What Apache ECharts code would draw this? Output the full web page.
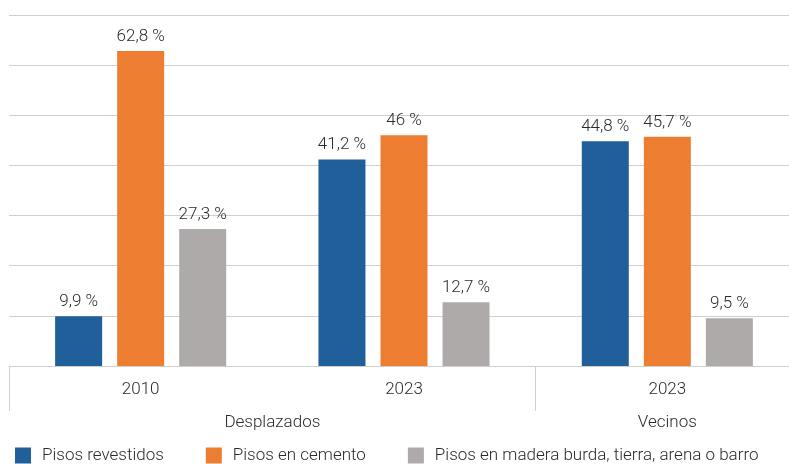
<!DOCTYPE html>
<html>
<head>
    <meta charset="utf-8">
    <title>ECharts</title>
    <script src="https://cdn.jsdelivr.net/npm/echarts@6.0.0/dist/echarts.min.js"></script>
    <style>
        html, body { margin: 0; padding: 0; background: #fff; }
    </style>
</head>
<body>
<div id="main" style="width: 789px;height:464px;"></div>
<script type="text/javascript">
    // datos
    var years = ['2010', '2023', '2023'];
    var groups = ['', '', 'Desplazados', '', '', 'Vecinos', ''];
    var revestidos = [9.9, 41.2, 44.8];
    var cemento = [62.8, 46, 45.7];
    var madera = [27.3, 12.7, 9.5];
    var seriesNames = ['Pisos revestidos', 'Pisos en cemento', 'Pisos en madera burda, tierra, arena o barro'];
    var colors = ['#215F9B', '#ED7D31', '#AEAAAA'];

    var font = 'Roboto';
    var txt = '#2B2B2B';
    var lineColor = '#CFCFCF';

    var myChart = echarts.init(document.getElementById('main'));

    function barSeries(name, data, color) {
        return {
            name: name,
            type: 'bar',
            xAxisIndex: 0,
            data: data,
            barWidth: 47,
            barGap: '32%',
            itemStyle: {color: color},
            label: {
                show: true,
                position: 'top',
                distance: 6,
                color: txt,
                fontFamily: font,
                fontSize: 17,
                fontWeight: 300,
                formatter: function (p) {
                    return String(p.value).replace('.', ',') + ' %';
                }
            }
        };
    }

    var option = {
        animation: false,
        color: colors,
        grid: {
            left: 9,
            top: 15,
            width: 790,
            bottom: 98,
            outerBoundsMode: 'none'
        },
        legend: {
            left: 15,
            bottom: 0,
            padding: 0,
            itemWidth: 16,
            itemHeight: 16,
            itemGap: 42,
            icon: 'rect',
            textStyle: {
                color: txt,
                fontFamily: font,
                fontSize: 17,
                fontWeight: 300,
                padding: [0, 0, 0, 6]
            },
            data: seriesNames
        },
        xAxis: [{
            type: 'category',
            data: years,
            axisLine: {lineStyle: {color: lineColor}},
            axisTick: {show: false},
            axisLabel: {
                color: txt,
                fontFamily: font,
                fontSize: 17,
                fontWeight: 300,
                margin: 15
            }
        }, {
            type: 'category',
            position: 'bottom',
            data: groups,
            boundaryGap: false,
            axisLine: {show: false},
            axisTick: {
                show: true,
                length: 45,
                interval: function (i) {
                    return i === 0 || i === 4;
                },
                lineStyle: {color: lineColor}
            },
            axisLabel: {
                interval: 0,
                color: txt,
                fontFamily: font,
                fontSize: 17,
                fontWeight: 300,
                margin: 48
            }
        }],
        yAxis: {
            type: 'value',
            min: 0,
            max: 70,
            interval: 10,
            axisLabel: {show: false},
            axisLine: {show: false},
            axisTick: {show: false},
            splitLine: {lineStyle: {color: lineColor}}
        },
        series: [
            barSeries(seriesNames[0], revestidos, colors[0]),
            barSeries(seriesNames[1], cemento, colors[1]),
            barSeries(seriesNames[2], madera, colors[2])
        ]
    };

    myChart.setOption(option);
</script>
</body>
</html>
